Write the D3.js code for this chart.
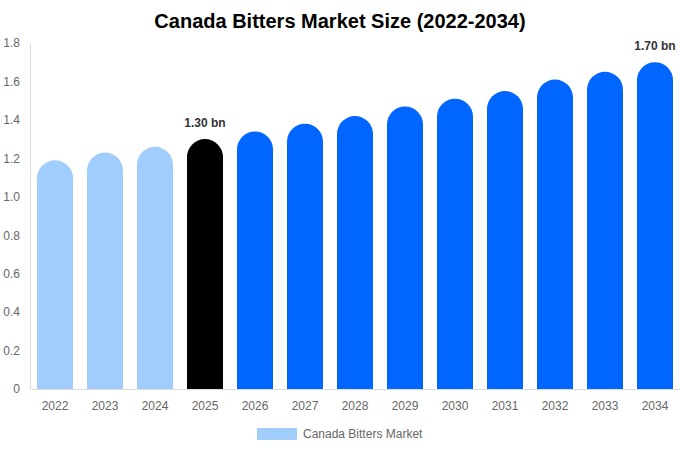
<!DOCTYPE html>
<html>
<head>
<meta charset="utf-8">
<script src="https://cdn.jsdelivr.net/npm/d3@7"></script>
<style>
  body { margin: 0; background: #fff; }
  svg { font-family: "Liberation Sans", Arial, sans-serif; display: block; }
</style>
</head>
<body>
<svg id="chart" width="680" height="450"></svg>
<script>
const years = ["2022", "2023", "2024", "2025", "2026", "2027", "2028", "2029", "2030", "2031", "2032", "2033", "2034"];
const marketSize = [1.19, 1.23, 1.26, 1.30, 1.34, 1.38, 1.42, 1.47, 1.51, 1.55, 1.61, 1.65, 1.70];
const yTicks = [0, 0.2, 0.4, 0.6, 0.8, 1.0, 1.2, 1.4, 1.6, 1.8];
const labelled = ["2025", "2034"];

const svg = d3.select("#chart");
const margin = { top: 43, right: 0, bottom: 61, left: 30 };
const width = 680, height = 450;

const x = d3.scaleBand()
  .domain(years)
  .range([margin.left, width - margin.right])
  .paddingInner(0.28)
  .paddingOuter(0.14);

const y = d3.scaleLinear()
  .domain([0, 1.8])
  .range([height - margin.bottom, margin.top]);

const barColor = (yr) => {
  if (+yr < 2025) return "#a0cdfb";
  if (+yr === 2025) return "#000000";
  return "#0066ff";
};

// title
svg.append("text")
  .attr("x", width / 2)
  .attr("y", 28)
  .attr("text-anchor", "middle")
  .style("font-size", "20px")
  .style("font-weight", "bold")
  .attr("fill", "#000")
  .text("Canada Bitters Market Size (2022-2034)");

// y axis
const yAxis = svg.append("g")
  .attr("transform", `translate(${margin.left},0)`)
  .call(d3.axisLeft(y).tickValues(yTicks).tickSize(0).tickPadding(10)
    .tickFormat(d => d === 0 ? "0" : d3.format(".1f")(d)));
yAxis.select(".domain").attr("stroke", "#ddd");
yAxis.selectAll("text").attr("fill", "#666").style("font-size", "12px");

// x axis
const xAxis = svg.append("g")
  .attr("transform", `translate(0,${y(0)})`)
  .call(d3.axisBottom(x).tickSize(0).tickPadding(12));
xAxis.select(".domain").attr("stroke", "#ddd");
xAxis.selectAll("text").attr("fill", "#666").style("font-size", "12px");

// bars with rounded tops
const barPath = (d, i) => {
  const x0 = x(d), w = x.bandwidth(), r = w / 2;
  const top = y(marketSize[i]), bottom = y(0);
  return `M${x0},${bottom} L${x0},${top + r} A${r},${r} 0 0 1 ${x0 + w},${top + r} L${x0 + w},${bottom} Z`;
};

svg.append("g").selectAll("path")
  .data(years)
  .join("path")
  .attr("d", barPath)
  .attr("fill", d => barColor(d));

// value labels
svg.append("g").selectAll("text")
  .data(years.filter(d => labelled.includes(d)))
  .join("text")
  .attr("x", d => x(d) + x.bandwidth() / 2)
  .attr("y", d => y(marketSize[years.indexOf(d)]) - 12)
  .attr("text-anchor", "middle")
  .style("font-size", "12px")
  .style("font-weight", "bold")
  .attr("fill", "#333")
  .text(d => d3.format(".2f")(marketSize[years.indexOf(d)]) + " bn");

// legend
const legend = svg.append("g").attr("transform", "translate(257,428)");
legend.append("rect")
  .attr("width", 40)
  .attr("height", 12)
  .attr("fill", "#a0cdfb");
legend.append("text")
  .attr("x", 46)
  .attr("y", 10)
  .style("font-size", "12px")
  .attr("fill", "#666")
  .text("Canada Bitters Market");
</script>
</body>
</html>
